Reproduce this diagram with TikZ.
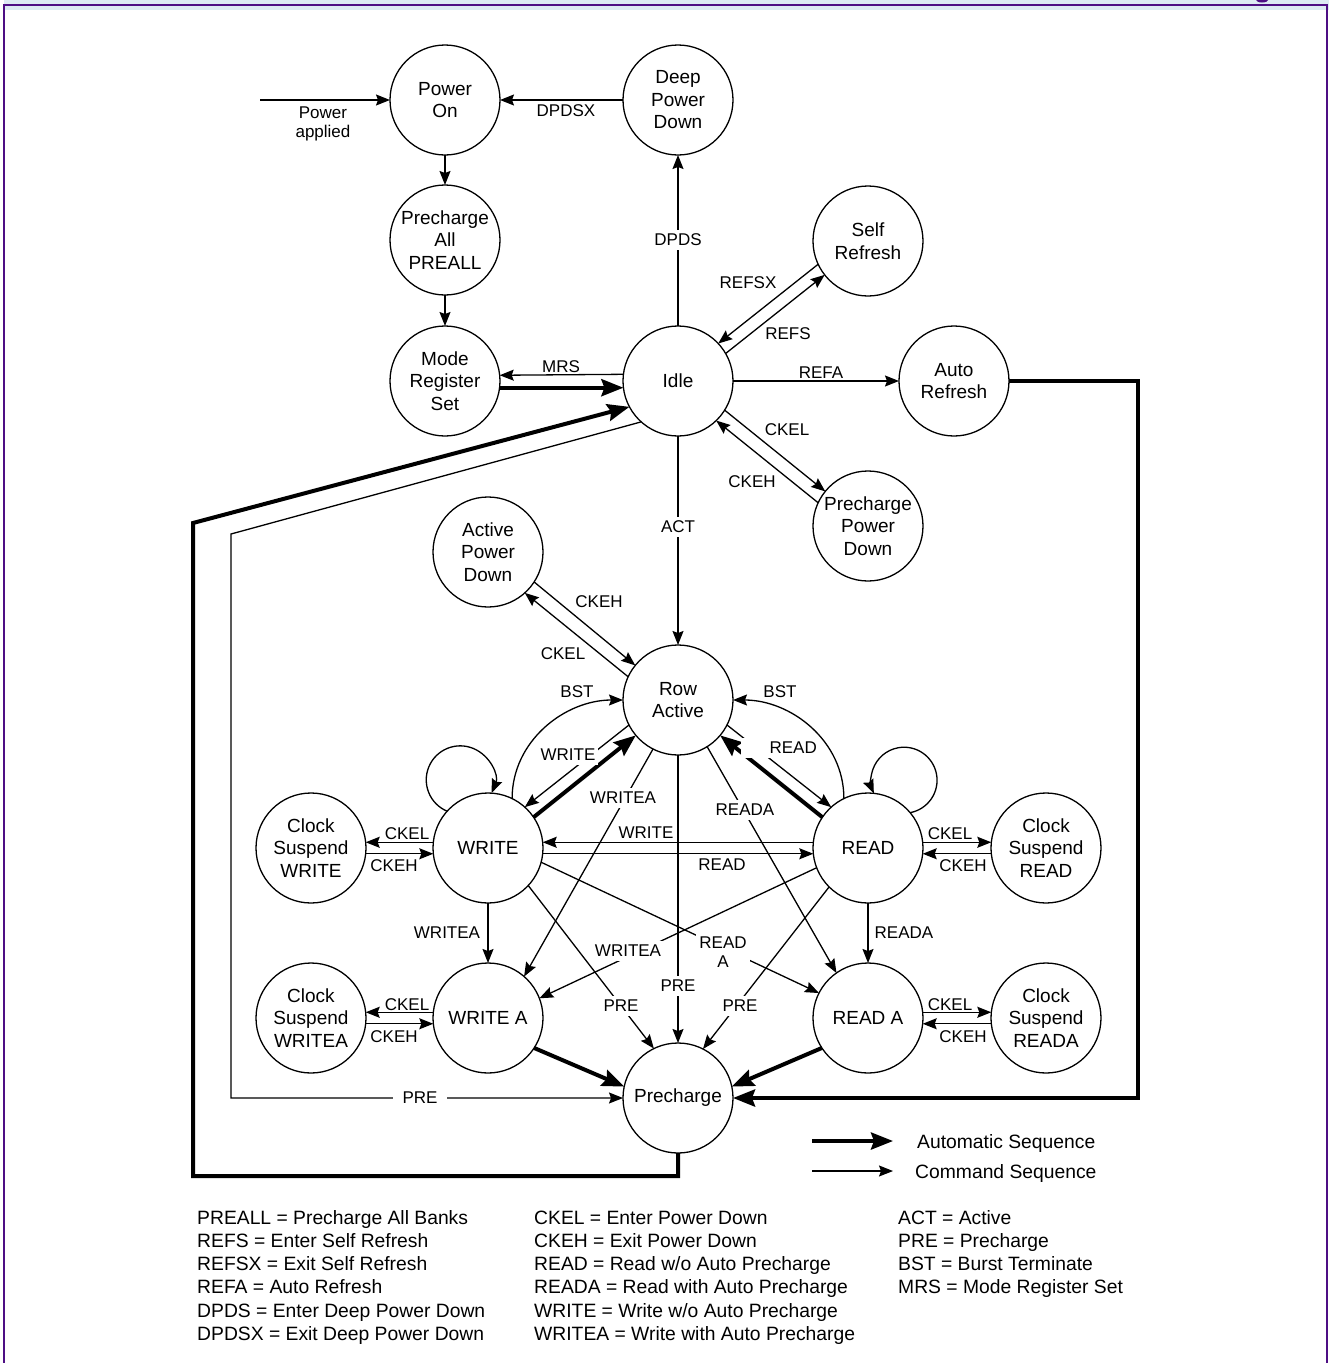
\documentclass[tikz,border=0pt]{standalone}
\usepackage{fontspec}
\setmainfont{Liberation Sans}
\usetikzlibrary{arrows.meta,calc}
\definecolor{frameP}{RGB}{78,14,132}
\definecolor{bandB}{RGB}{221,234,243}
\newcommand{\nodefont}{\fontsize{19}{22.5}\selectfont}
\newcommand{\lblfont}{\fontsize{17}{18.5}\selectfont}
\newcommand{\legfont}{\fontsize{19.3}{23}\selectfont}
\begin{document}
\begin{tikzpicture}[x=1pt,y=-1pt,
  state/.style={circle,draw,line width=1.3pt,minimum size=110pt,inner sep=0pt,outer sep=0pt,align=center,font=\nodefont},
  cmd/.style={line width=1.3pt,-{Stealth[length=14pt,width=11pt,inset=2pt]}},
  autoseq/.style={line width=4pt,-{Stealth[length=22pt,width=17pt,inset=3pt]}},
  lbl/.style={font=\lblfont,inner sep=1pt,align=center},
  lblw/.style={lbl,fill=white,inner xsep=3pt,inner ysep=4pt},
  legtext/.style={font=\legfont,inner sep=0pt,anchor=base west},
]
% page and frame
\useasboundingbox (0,0) rectangle (1329,1363);
\fill[white] (0,0) rectangle (1329,1363);
\fill[bandB] (4,0) rectangle (1329,10);
\draw[frameP,line width=2pt] (4,1363) -- (4,5) -- (1327,5) -- (1327,1363);
\fill[frameP] (1256,0) -- (1268,0) arc[start angle=0,end angle=180,x radius=6,y radius=2.5] -- cycle;

% states
\node[state] (PO)   at (445,100)  {Power\\On};
\node[state] (DPD)  at (678,100)  {Deep\\Power\\Down};
\node[state] (PA)   at (445,240)  {Precharge\\All\\PREALL};
\node[state] (MRS)  at (445,381)  {Mode\\Register\\Set};
\node[state] (IDLE) at (678,381)  {Idle};
\node[state] (SR)   at (868,241)  {Self\\Refresh};
\node[state] (AR)   at (954,381)  {Auto\\Refresh};
\node[state] (PPD)  at (868,526)  {Precharge\\Power\\Down};
\node[state] (APD)  at (488,552)  {Active\\Power\\Down};
\node[state] (RA)   at (678,700)  {Row\\Active};
\node[state] (WR)   at (488,848)  {WRITE};
\node[state] (RD)   at (868,848)  {READ};
\node[state] (CSW)  at (311,848)  {Clock\\Suspend\\WRITE};
\node[state] (CSR)  at (1046,848) {Clock\\Suspend\\READ};
\node[state] (WA)   at (488,1018) {WRITE A};
\node[state] (RDA)  at (868,1018) {READ A};
\node[state] (CSWA) at (311,1018) {Clock\\Suspend\\WRITEA};
\node[state] (CSRA) at (1046,1018){Clock\\Suspend\\READA};
\node[state] (PRE)  at (678,1098) {Precharge};

% coordinates for free ends and bends
\coordinate (pin) at (260,100);
\coordinate (arA) at (1138,381);
\coordinate (bkA) at (193,1176);
\coordinate (bkB) at (193,523);
\coordinate (prA) at (231,534);
\coordinate (lgA1) at (812,1141);
\coordinate (lgA2) at (893,1141);
\coordinate (lgC1) at (812,1171);
\coordinate (lgC2) at (893,1171);

% top part
\draw[cmd] (pin) -- (PO);
\draw[cmd] (DPD) -- (PO);
\draw[cmd] (PO) -- (PA);
\draw[cmd] (PA) -- (MRS);
\draw[cmd] (IDLE.173.7) -- (MRS.6.3);
\draw[autoseq] (MRS.-7.5) -- (IDLE.187.5);
\draw[cmd] (IDLE) -- (DPD);
\draw[cmd] (SR.205) -- (IDLE.43);
\draw[cmd] (IDLE.30) -- (SR.218);
\draw[cmd] (IDLE) -- (AR);
\draw[cmd] (IDLE.-32) -- (PPD.141);
\draw[cmd] (PPD.155) -- (IDLE.-46);

% long loops
\draw[autoseq] (AR.east) -- (arA) |- (PRE.east);
\draw[autoseq] (PRE.south) |- (bkA) -- (bkB) -- (IDLE.208.4);
\draw[cmd] (IDLE.228) -- (prA) |- (PRE.west);

% row active area
\draw[cmd] (IDLE) -- (RA);
\draw[cmd] (APD.-33) -- (RA.141);
\draw[cmd] (RA.155) -- (APD.-48);
\draw[cmd] (RA.207) -- (WR.48);
\draw[autoseq] (WR.34) -- (RA.220);
\draw[cmd] (RA.-27) -- (RD.132);
\draw[autoseq] (RD.146) -- (RA.-40);
\draw[cmd] (WR.64) to[out=90,in=180] (RA.180);
\draw[cmd] (RD.116) to[out=90,in=0] (RA.0);
\draw[cmd] (WR.138.2) arc[start angle=112.7,end angle=382.7,radius=34];
\draw[cmd] (RD.40.1) arc[start angle=79.4,end angle=-203.7,radius=33];

% write / read
\draw[cmd] (WR.174) -- (CSW.6);
\draw[cmd] (CSW.-6) -- (WR.186);
\draw[cmd] (RD.6) -- (CSR.174);
\draw[cmd] (CSR.186) -- (RD.-6);
\draw[cmd] (RD.174) -- (WR.6);
\draw[cmd] (WR.-6) -- (RD.186);
\draw[cmd] (RA.243) -- (WA.49);
\draw[cmd] (RA.-58) -- (RDA.125);
\draw[cmd] (RA) -- (PRE);
\draw[cmd] (WR) -- (WA);
\draw[cmd] (RD) -- (RDA);
\draw[cmd] (WR.-15) -- (RDA.153);
\draw[cmd] (RD.201) -- (WA.21);
\draw[cmd] (WR.-43) -- (PRE.116);
\draw[cmd] (RD.225) -- (PRE.63);
\draw[autoseq] (WA.-33) -- (PRE.168);
\draw[autoseq] (RDA.213) -- (PRE.12);
\draw[cmd] (WA.174) -- (CSWA.6);
\draw[cmd] (CSWA.-6) -- (WA.186);
\draw[cmd] (RDA.6) -- (CSRA.174);
\draw[cmd] (CSRA.186) -- (RDA.-6);

% edge labels
\node[lbl] (tPapp) at (323,124) {Power\\applied};
\node[lbl] (tDPDSX) at (566,111) {DPDSX};
\node[lblw] (tDPDS) at (678,240) {DPDS};
\node[lbl] (tMRS) at (561,367) {MRS};
\node[lbl] (tREFSX) at (748,283) {REFSX};
\node[lbl] (tREFS) at (788,334) {REFS};
\node[lbl] (tREFA) at (821,373) {REFA};
\node[lbl] (tCKELi) at (787,430) {CKEL};
\node[lbl] (tCKEHi) at (752,482) {CKEH};
\node[lblw] (tACT) at (678,527) {ACT};
\node[lbl] (tCKEHa) at (599,602) {CKEH};
\node[lbl] (tCKELa) at (563,654) {CKEL};
\node[lbl] (tBSTw) at (577,692) {BST};
\node[lbl] (tBSTr) at (780,692) {BST};
\node[lblw] (tWRt) at (568,755) {WRITE};
\node[lblw,anchor=east] (tRDt) at (820,748) {\hspace*{26pt}READ};
\node[lblw] (tWAd) at (623,798) {WRITEA};
\node[lblw] (tRDAd) at (745,810) {READA};
\node[lbl] (tCKELw) at (407,834) {CKEL};
\node[lbl] (tCKEHw) at (394,866) {CKEH};
\node[lbl] (tCKELr) at (950,834) {CKEL};
\node[lbl] (tCKEHr) at (963,866) {CKEH};
\node[lbl] (tWRh) at (646,833) {WRITE};
\node[lbl] (tRDh) at (722,865) {READ};
\node[lbl] (tWAv) at (447,933) {WRITEA};
\node[lbl] (tRDAv) at (904,933) {READA};
\node[lblw] (tRDAx) at (723,952) {READ\\A};
\node[lblw] (tWAx) at (628,951) {WRITEA};
\node[lblw] (tPREc) at (678,986) {PRE};
\node[lblw] (tPREw) at (621,1006) {PRE};
\node[lblw] (tPREr) at (740,1006) {PRE};
\node[lbl] (tCKELwa) at (407,1005) {CKEL};
\node[lbl] (tCKEHwa) at (394,1037) {CKEH};
\node[lbl] (tCKELra) at (950,1005) {CKEL};
\node[lbl] (tCKEHra) at (963,1037) {CKEH};
\node[lblw,inner xsep=10pt] (tPREl) at (420,1098) {PRE};

% legend
\draw[autoseq] (lgA1) -- (lgA2);
\draw[cmd] (lgC1) -- (lgC2);
\node[legtext] (legA) at (917,1148) {Automatic Sequence};
\node[legtext] (legC) at (915,1178) {Command Sequence};

% abbreviations
\foreach \t [count=\i] in {PREALL = Precharge All Banks,REFS = Enter Self Refresh,REFSX = Exit Self Refresh,REFA = Auto Refresh,DPDS = Enter Deep Power Down,DPDSX = Exit Deep Power Down}
  \node[legtext] (abA\i) at (197,1224+23.3*\i-23.3) {\t};
\foreach \t [count=\i] in {CKEL = Enter Power Down,CKEH = Exit Power Down,READ = Read w/o Auto Precharge,READA = Read with Auto Precharge,WRITE = Write w/o Auto Precharge,WRITEA = Write with Auto Precharge}
  \node[legtext] (abB\i) at (534,1224+23.3*\i-23.3) {\t};
\foreach \t [count=\i] in {ACT = Active,PRE = Precharge,BST = Burst Terminate,MRS = Mode Register Set}
  \node[legtext] (abC\i) at (898,1224+23.3*\i-23.3) {\t};
\end{tikzpicture}
\end{document}
